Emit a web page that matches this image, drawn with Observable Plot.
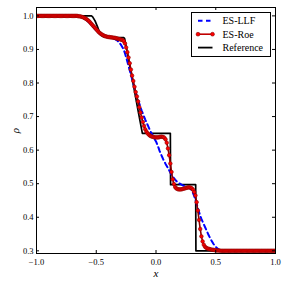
<!DOCTYPE html>
<html><head><meta charset="utf-8">
<script src="https://cdn.jsdelivr.net/npm/d3@7"></script>
<script src="https://cdn.jsdelivr.net/npm/@observablehq/plot@0.6"></script>
<style>
body{margin:0;background:#fff;}
#wrap{position:relative;width:288px;height:288px;}
</style></head><body><div id="wrap"></div>
<script>
// grid (cell centres)
const xs = [
-1.00,-0.99,-0.98,-0.97,-0.96,-0.95,-0.94,-0.93,-0.92,-0.91,-0.90,-0.89,-0.88,-0.87,-0.86,-0.85,-0.84,-0.83,-0.82,-0.81,
-0.80,-0.79,-0.78,-0.77,-0.76,-0.75,-0.74,-0.73,-0.72,-0.71,-0.70,-0.69,-0.68,-0.67,-0.66,-0.65,-0.64,-0.63,-0.62,-0.61,
-0.60,-0.59,-0.58,-0.57,-0.56,-0.55,-0.54,-0.53,-0.52,-0.51,-0.50,-0.49,-0.48,-0.47,-0.46,-0.45,-0.44,-0.43,-0.42,-0.41,
-0.40,-0.39,-0.38,-0.37,-0.36,-0.35,-0.34,-0.33,-0.32,-0.31,-0.30,-0.29,-0.28,-0.27,-0.26,-0.25,-0.24,-0.23,-0.22,-0.21,
-0.20,-0.19,-0.18,-0.17,-0.16,-0.15,-0.14,-0.13,-0.12,-0.11,-0.10,-0.09,-0.08,-0.07,-0.06,-0.05,-0.04,-0.03,-0.02,-0.01,
0.00,0.01,0.02,0.03,0.04,0.05,0.06,0.07,0.08,0.09,0.10,0.11,0.12,0.13,0.14,0.15,0.16,0.17,0.18,0.19,
0.20,0.21,0.22,0.23,0.24,0.25,0.26,0.27,0.28,0.29,0.30,0.31,0.32,0.33,0.34,0.35,0.36,0.37,0.38,0.39,
0.40,0.41,0.42,0.43,0.44,0.45,0.46,0.47,0.48,0.49,0.50,0.51,0.52,0.53,0.54,0.55,0.56,0.57,0.58,0.59,
0.60,0.61,0.62,0.63,0.64,0.65,0.66,0.67,0.68,0.69,0.70,0.71,0.72,0.73,0.74,0.75,0.76,0.77,0.78,0.79,
0.80,0.81,0.82,0.83,0.84,0.85,0.86,0.87,0.88,0.89,0.90,0.91,0.92,0.93,0.94,0.95,0.96,0.97,0.98,0.99,
1.00];

// ES-LLF density
const llf = [
1.000,1.000,1.000,1.000,1.000,1.000,1.000,1.000,1.000,1.000,1.000,1.000,1.000,1.000,1.000,1.000,1.000,1.000,1.000,1.000,
1.000,1.000,1.000,1.000,1.000,1.000,1.000,1.000,1.000,1.000,1.000,1.000,1.000,0.999,0.999,0.998,0.998,0.997,0.996,0.994,
0.992,0.990,0.987,0.984,0.981,0.977,0.973,0.969,0.965,0.961,0.957,0.953,0.950,0.947,0.945,0.943,0.941,0.940,0.939,0.938,
0.937,0.936,0.935,0.934,0.933,0.932,0.930,0.928,0.925,0.921,0.917,0.912,0.906,0.899,0.889,0.877,0.864,0.851,0.838,0.825,
0.812,0.799,0.786,0.773,0.761,0.750,0.739,0.728,0.718,0.709,0.700,0.691,0.683,0.675,0.667,0.659,0.652,0.645,0.638,0.632,
0.626,0.617,0.608,0.598,0.589,0.581,0.573,0.566,0.559,0.553,0.547,0.540,0.533,0.527,0.522,0.517,0.512,0.508,0.505,0.502,
0.500,0.498,0.496,0.494,0.493,0.492,0.490,0.489,0.487,0.484,0.479,0.472,0.463,0.452,0.440,0.428,0.416,0.405,0.395,0.387,
0.379,0.371,0.363,0.355,0.347,0.340,0.333,0.327,0.321,0.316,0.312,0.308,0.305,0.303,0.302,0.301,0.301,0.300,0.300,0.300,
0.300,0.300,0.300,0.300,0.300,0.300,0.300,0.300,0.300,0.300,0.300,0.300,0.300,0.300,0.300,0.300,0.300,0.300,0.300,0.300,
0.300,0.300,0.300,0.300,0.300,0.300,0.300,0.300,0.300,0.300,0.300,0.300,0.300,0.300,0.300,0.300,0.300,0.300,0.300,0.300,
0.300];

// ES-Roe density
const roe = [
1.000,1.000,1.000,1.000,1.000,1.000,1.000,1.000,1.000,1.000,1.000,1.000,1.000,1.000,1.000,1.000,1.000,1.000,1.000,1.000,
1.000,1.000,1.000,1.000,1.000,1.000,1.000,1.000,1.000,1.000,1.000,1.000,1.000,1.000,1.000,0.999,0.999,0.998,0.997,0.996,
0.994,0.992,0.990,0.987,0.984,0.980,0.976,0.972,0.968,0.964,0.960,0.956,0.952,0.949,0.946,0.944,0.942,0.940,0.939,0.938,
0.937,0.937,0.936,0.936,0.935,0.935,0.934,0.933,0.932,0.931,0.930,0.929,0.928,0.925,0.918,0.906,0.892,0.876,0.859,0.840,
0.822,0.806,0.789,0.773,0.760,0.745,0.728,0.712,0.697,0.684,0.672,0.662,0.655,0.650,0.646,0.643,0.641,0.640,0.639,0.638,
0.638,0.638,0.638,0.639,0.640,0.640,0.639,0.637,0.632,0.622,0.605,0.585,0.560,0.535,0.513,0.499,0.490,0.486,0.484,0.483,
0.483,0.483,0.484,0.485,0.486,0.487,0.488,0.489,0.489,0.488,0.486,0.482,0.475,0.465,0.445,0.420,0.392,0.365,0.343,0.328,
0.318,0.312,0.309,0.307,0.306,0.305,0.304,0.303,0.303,0.302,0.302,0.301,0.301,0.301,0.300,0.300,0.300,0.300,0.300,0.300,
0.300,0.300,0.300,0.300,0.300,0.300,0.300,0.300,0.300,0.300,0.300,0.300,0.300,0.300,0.300,0.300,0.300,0.300,0.300,0.300,
0.300,0.300,0.300,0.300,0.300,0.300,0.300,0.300,0.300,0.300,0.300,0.300,0.300,0.300,0.300,0.300,0.300,0.300,0.300,0.300,
0.300];

// Reference solution
const refX = [-1.0,-0.54,-0.53,-0.51,-0.49,-0.47,-0.46,-0.44,-0.35,-0.27,-0.263,-0.2,-0.15,-0.114,0.12,0.122,0.332,0.334,1.0];
const refY = [1.0,1.0,0.997,0.985,0.968,0.949,0.942,0.938,0.936,0.935,0.933,0.815,0.718,0.65,0.65,0.497,0.497,0.3,0.3];

const xTicks = [-1.0,-0.5,0.0,0.5,1.0];
const yTicks = [0.3,0.4,0.5,0.6,0.7,0.8,0.9,1.0];
const seriesNames = ["ES-LLF","ES-Roe","Reference"];
const xLabel = "x", yLabel = "ρ";

const llfData = xs.map((x,i)=>({x, y: llf[i]}));
const roeData = xs.map((x,i)=>({x, y: roe[i]}));
const refData = refX.map((x,i)=>({x, y: refY[i]}));

const W=288,H=288,mL=36,mR=13,mT=7,mB=35;
const innerW=W-mL-mR, innerH=H-mT-mB, tl=3;
const fmt = d => (d<0?"\u2212":"") + Math.abs(d).toFixed(1);
const serif = "'Liberation Serif','DejaVu Serif',serif";

const plot = Plot.plot({
  width:W, height:H, marginLeft:mL, marginRight:mR, marginTop:mT, marginBottom:mB,
  style:{fontFamily:serif, fontSize:"8.5px", color:"#000", background:"#fff", overflow:"visible"},
  x:{domain:[-1,1]},
  y:{domain:[0.292,1.025]},
  marks:[
    Plot.line(refData,{x:"x",y:"y",stroke:"#000",strokeWidth:1.7,clip:true}),
    Plot.line(llfData,{x:"x",y:"y",stroke:"#0000ff",strokeWidth:2,strokeDasharray:"5,3.5",clip:true}),
    Plot.line(roeData,{x:"x",y:"y",stroke:"#8b0000",strokeWidth:1.6,clip:true}),
    Plot.dot(roeData,{x:"x",y:"y",r:1.8,fill:"#ff0000",stroke:"#8b0000",strokeWidth:0.6,clip:true}),
    Plot.frame({stroke:"#000",strokeWidth:1}),
    Plot.tickX(xTicks,{x:d=>d,insetTop:innerH-tl,stroke:"#000"}),
    Plot.tickX(xTicks,{x:d=>d,insetBottom:innerH-tl,stroke:"#000"}),
    Plot.tickY(yTicks,{y:d=>d,insetRight:innerW-tl,stroke:"#000"}),
    Plot.tickY(yTicks,{y:d=>d,insetLeft:innerW-tl,stroke:"#000"}),
    Plot.axisX(xTicks,{tickSize:0,tickPadding:5,tickFormat:fmt,label:null}),
    Plot.axisY(yTicks,{tickSize:0,tickPadding:3,tickFormat:fmt,label:null}),
    Plot.text([xLabel],{frameAnchor:"bottom",text:d=>d,dy:23,fontStyle:"italic",fontSize:11,fontFamily:serif,textAnchor:"middle"}),
    Plot.text([yLabel],{frameAnchor:"left",text:d=>d,dx:-21,rotate:-90,fontStyle:"italic",fontSize:11,fontFamily:serif,textAnchor:"middle"})
  ]
});
const wrap = document.getElementById("wrap");
wrap.appendChild(plot);

// legend
const ns = "http://www.w3.org/2000/svg";
const lg = document.createElementNS(ns,"svg");
lg.setAttribute("width",81); lg.setAttribute("height",46);
lg.style.position="absolute"; lg.style.left="191px"; lg.style.top="12px";
const box = document.createElementNS(ns,"rect");
box.setAttribute("x",0.5); box.setAttribute("y",0.5); box.setAttribute("width",79); box.setAttribute("height",44);
box.setAttribute("fill","#fff"); box.setAttribute("stroke","#000"); box.setAttribute("stroke-width",1);
lg.appendChild(box);
const rows=[8.8,22.2,35.6];
seriesNames.forEach((name,i)=>{
  const y=rows[i];
  const ln=document.createElementNS(ns,"line");
  ln.setAttribute("x1",7); ln.setAttribute("x2",21.5); ln.setAttribute("y1",y); ln.setAttribute("y2",y);
  if(i===0){ln.setAttribute("stroke","#0000ff");ln.setAttribute("stroke-width",2);ln.setAttribute("stroke-dasharray","4.5,3.5");}
  if(i===1){ln.setAttribute("stroke","#c00000");ln.setAttribute("stroke-width",1.6);}
  if(i===2){ln.setAttribute("stroke","#000");ln.setAttribute("stroke-width",1.8);}
  lg.appendChild(ln);
  if(i===1){
    [7,21.5].forEach(cx=>{const c=document.createElementNS(ns,"circle");c.setAttribute("cx",cx);c.setAttribute("cy",y);c.setAttribute("r",1.9);c.setAttribute("fill","#ff0000");c.setAttribute("stroke","#8b0000");c.setAttribute("stroke-width",0.6);lg.appendChild(c);});
  }
  const t=document.createElementNS(ns,"text");
  t.setAttribute("x",31.5); t.setAttribute("y",y); t.setAttribute("dy","0.35em");
  t.setAttribute("font-family",serif); t.setAttribute("font-size",10); t.setAttribute("fill","#000");
  t.textContent=name;
  lg.appendChild(t);
});
wrap.appendChild(lg);
</script></body></html>
